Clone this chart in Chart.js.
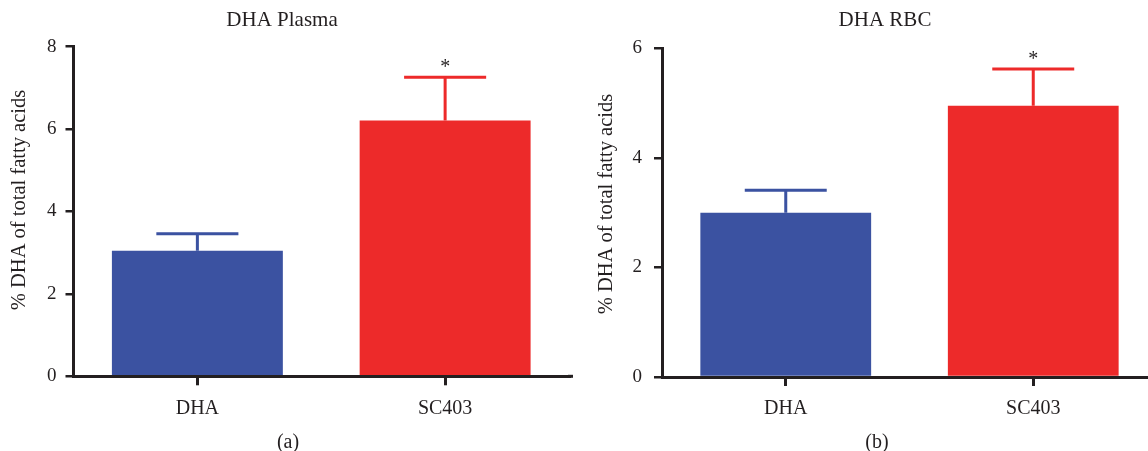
<!DOCTYPE html>
<html><head><meta charset="utf-8">
<script src="https://cdn.jsdelivr.net/npm/chart.js@4.4.1/dist/chart.umd.min.js"></script>
<style>
html,body{margin:0;padding:0;background:#fff;overflow:hidden;width:1148px;height:451px;position:relative;}
#wrapA{position:absolute;left:0;top:0;width:574px;height:451px;}
#wrapB{position:absolute;left:574px;top:0;width:590px;height:451px;}
</style></head><body>
<div id="wrapA"><canvas id="cA"></canvas></div>
<div id="wrapB"><canvas id="cB"></canvas></div>
<script>
// ---- data ----
const categories = ['DHA', 'SC403'];
const plasmaMeans = [3.05, 6.21];
const plasmaErrors = [0.41, 1.05];
const rbcMeans = [3.00, 4.95];
const rbcErrors = [0.41, 0.67];
const plasmaTicks = [0, 2, 4, 6, 8];
const rbcTicks = [0, 2, 4, 6];
const significance = ['', '*'];
const chartTitles = ['DHA Plasma', 'DHA RBC'];
const panelLabels = ['(a)', '(b)'];
const yAxisTitle = '% DHA of total fatty acids';
const barColors = ['#3b52a1', '#ed2a2a'];
const ink = '#231f20';
const FONT = '"Liberation Serif", "Times New Roman", serif';

Chart.defaults.font.family = FONT;
Chart.defaults.color = ink;

const errorBarPlugin = {
  id: 'errorBars',
  afterDatasetsDraw(chart, args, opts) {
    const ctx = chart.ctx;
    const meta = chart.getDatasetMeta(0);
    const ys = chart.scales.y;
    meta.data.forEach((bar, i) => {
      const mean = opts.means[i], err = opts.errors[i];
      const base = ys.getPixelForValue(mean);
      const top = ys.getPixelForValue(mean + err);
      const half = bar.width * 0.48 / 2;
      ctx.save();
      ctx.strokeStyle = opts.colors[i];
      ctx.lineWidth = 3;
      ctx.beginPath();
      ctx.moveTo(bar.x, base); ctx.lineTo(bar.x, top);
      ctx.moveTo(bar.x - half, top); ctx.lineTo(bar.x + half, top);
      ctx.stroke();
      if (opts.marks[i]) {
        ctx.fillStyle = ink;
        ctx.font = '20px ' + FONT;
        ctx.textAlign = 'center';
        ctx.textBaseline = 'middle';
        ctx.fillText(opts.marks[i], bar.x, top - 9.5);
      }
      ctx.restore();
    });
  }
};

const panelTextPlugin = {
  id: 'panelText',
  afterDraw(chart, args, opts) {
    const ctx = chart.ctx;
    const ca = chart.chartArea;
    ctx.save();
    if (opts.axisExtend) {
      ctx.strokeStyle = ink; ctx.lineWidth = 3;
      ctx.beginPath();
      ctx.moveTo(ca.right - 1, ca.bottom); ctx.lineTo(ca.right + opts.axisExtend, ca.bottom);
      ctx.stroke();
    }
    ctx.fillStyle = ink;
    ctx.textAlign = 'center';
    ctx.textBaseline = 'middle';
    ctx.font = '21px ' + FONT;
    ctx.fillText(opts.title, opts.titleX, opts.titleY);
    ctx.font = '20px ' + FONT;
    ctx.fillText(opts.label, opts.labelX, opts.labelY);
    // rotated y-axis title
    ctx.translate(opts.yTitleX, opts.yTitleY);
    ctx.rotate(-Math.PI / 2);
    ctx.font = '20.5px ' + FONT;
    ctx.fillText(opts.yTitle, 0, 0);
    ctx.restore();
  }
};

function makeChart(id, means, errors, ticks, cfg) {
  return new Chart(document.getElementById(id), {
    type: 'bar',
    data: {
      labels: categories,
      datasets: [{
        data: means,
        backgroundColor: barColors,
        borderWidth: 0,
        barPercentage: 0.69,
        categoryPercentage: 1.0
      }]
    },
    options: {
      responsive: true,
      maintainAspectRatio: false,
      animation: false,
      events: [],
      layout: { padding: cfg.padding },
      plugins: {
        legend: { display: false },
        tooltip: { enabled: false },
        errorBars: { means: means, errors: errors, colors: barColors, marks: significance },
        panelText: cfg.text
      },
      scales: {
        x: {
          z: 1,
          afterFit: s => { s.height = 44; },
          grid: { offset: false, drawOnChartArea: false, tickLength: 9, color: ink, lineWidth: 3 },
          border: { display: true, color: ink, width: 3 },
          ticks: { font: { size: 20 }, color: ink, padding: 11 }
        },
        y: {
          min: ticks[0],
          max: ticks[ticks.length - 1],
          afterFit: s => { s.width = cfg.yWidth; },
          afterBuildTicks: s => { s.ticks = ticks.map(v => ({ value: v })); },
          grid: { drawOnChartArea: false, tickLength: 8, color: ink, lineWidth: 2.5 },
          border: { display: true, color: ink, width: 3 },
          ticks: { font: { size: 19 }, color: ink, padding: cfg.tickPad },
          title: { display: false, text: yAxisTitle }
        }
      }
    },
    plugins: [errorBarPlugin, panelTextPlugin]
  });
}

makeChart('cA', plasmaMeans, plasmaErrors, plasmaTicks, {
  padding: { top: 46.7, bottom: 30.7, left: 0, right: 5 },
  yWidth: 73.5, tickPad: 9,
  text: { title: chartTitles[0], titleX: 282, titleY: 20.5, label: panelLabels[0], labelX: 288, labelY: 443,
          yTitle: yAxisTitle, yTitleX: 19.5, yTitleY: 200, axisExtend: 4 }
});
makeChart('cB', rbcMeans, rbcErrors, rbcTicks, {
  padding: { top: 48.3, bottom: 30, left: 0, right: 7 },
  yWidth: 88, tickPad: 12,
  text: { title: chartTitles[1], titleX: 311, titleY: 20.5, label: panelLabels[1], labelX: 303, labelY: 443,
          yTitle: yAxisTitle, yTitleX: 33, yTitleY: 204, axisExtend: 10 }
});
</script>
</body></html>
